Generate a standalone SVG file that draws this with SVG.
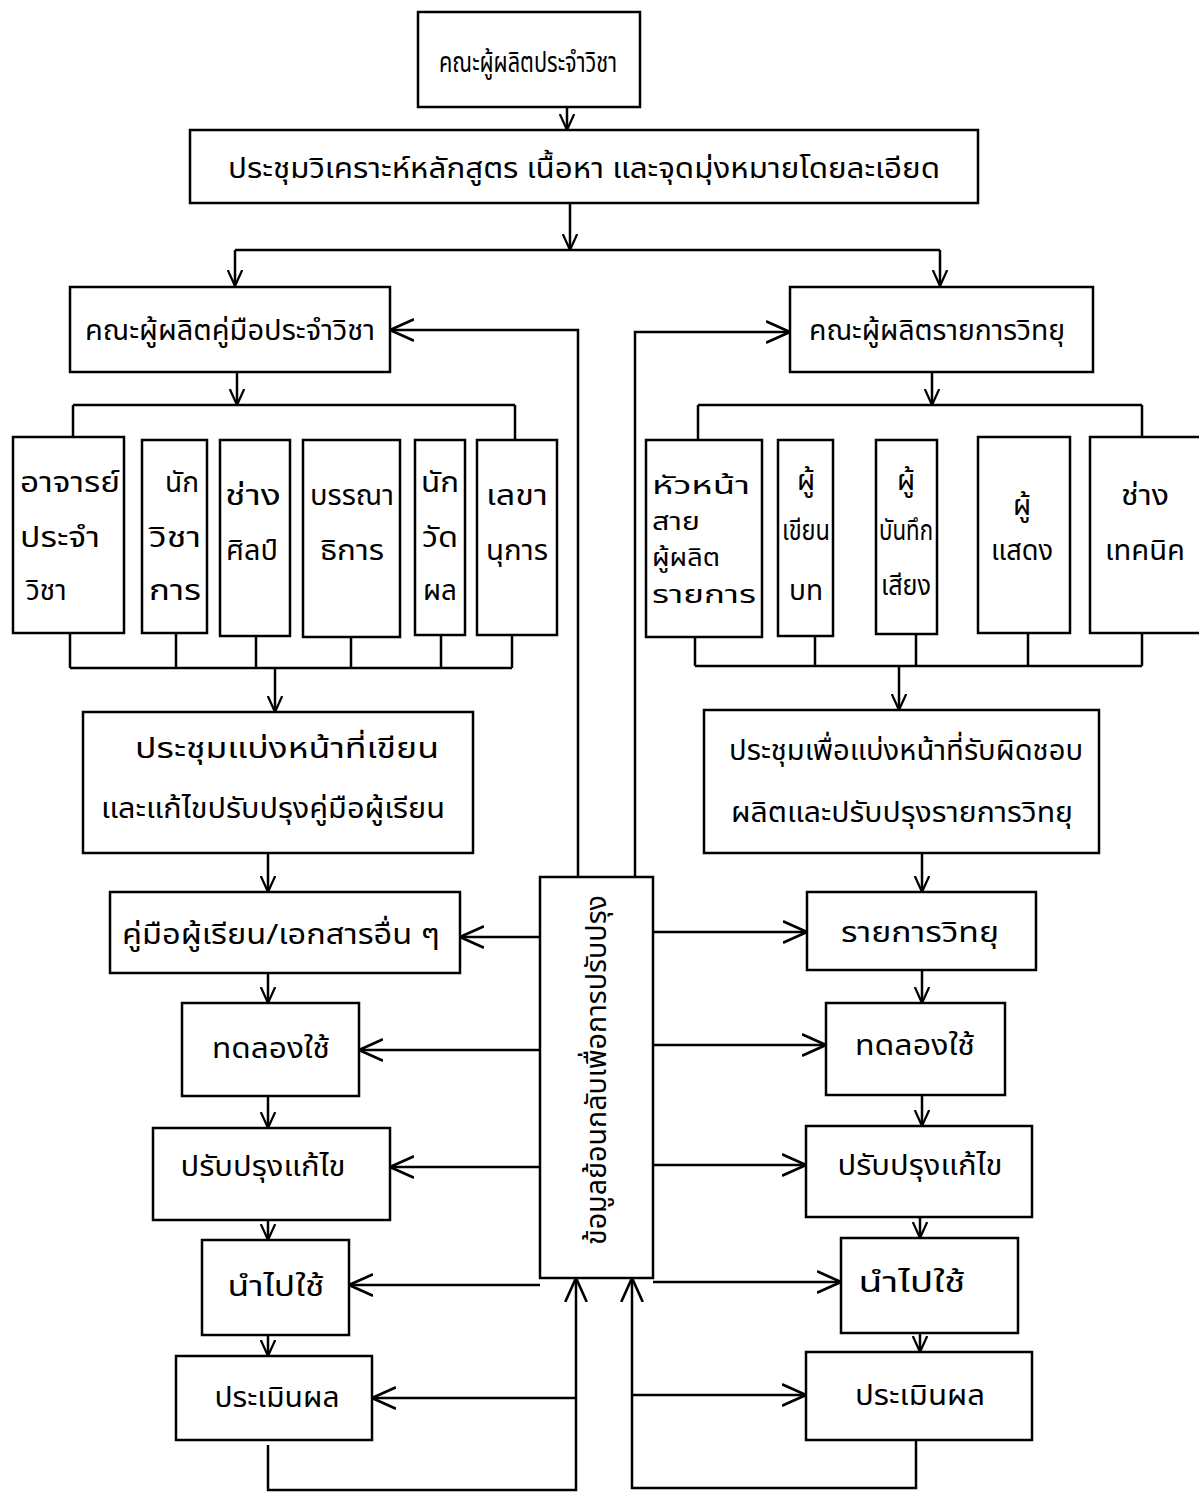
<svg xmlns="http://www.w3.org/2000/svg" width="1199" height="1494" viewBox="0 0 1199 1494">
<style>
.b{fill:#fff;stroke:#000;stroke-width:2.5}
.t{font-family:"Noto Sans Thai","Noto Sans","DejaVu Sans","Liberation Sans",sans-serif;font-size:28px;fill:#000}
.s{font-size:24px}
.m{text-anchor:middle}
.c path{fill:none;stroke:#000;stroke-width:2.5}
.d{marker-end:url(#a)}
.f{marker-end:url(#g)}
</style>
<defs>
<marker id="a" viewBox="0 0 10 10" refX="10" refY="5" markerWidth="16" markerHeight="16" markerUnits="userSpaceOnUse" orient="auto"><path d="M0,0.5 L10,5 L0,9.5" fill="none" stroke="#000" stroke-width="1.4"/></marker>
<marker id="g" viewBox="0 0 10 10" refX="10" refY="5" markerWidth="24" markerHeight="24" markerUnits="userSpaceOnUse" orient="auto"><path d="M0,0.5 L10,5 L0,9.5" fill="none" stroke="#000" stroke-width="1.1"/></marker>
</defs>
<rect width="1199" height="1494" fill="#fff"/>

<g id="connectors" class="c">
<path class="d" d="M567,107 V130"/>
<path class="d" d="M570,203 V250"/>
<path d="M235,250 H940"/>
<path class="d" d="M235,250 V286"/>
<path class="d" d="M940,250 V286"/>
<path class="d" d="M237,372 V405"/>
<path d="M73,405 H515 M73,405 V437 M515,405 V440"/>
<path class="d" d="M932,372 V405"/>
<path d="M698,405 H1142 M698,405 V440 M1142,405 V437"/>
<path d="M70,633 V668 M176,633 V668 M256,636 V668 M351,637 V668 M441,635 V668 M512,635 V668 M70,668 H512"/>
<path class="d" d="M275,668 V712"/>
<path d="M695,637 V666 M815,636 V666 M916,634 V666 M1028,633 V666 M1142,633 V666 M695,666 H1142"/>
<path class="d" d="M899,666 V710"/>
<path class="d" d="M268,853 V892"/>
<path class="d" d="M268,973 V1003"/>
<path class="d" d="M268,1096 V1128"/>
<path class="d" d="M268,1220 V1240"/>
<path class="d" d="M268,1335 V1356"/>
<path class="d" d="M922,853 V892"/>
<path class="d" d="M922,970 V1003"/>
<path class="d" d="M922,1095 V1126"/>
<path class="d" d="M920,1217 V1238"/>
<path class="d" d="M920,1333 V1352"/>
<path class="f" d="M268,1445 V1490 H576 V1278"/>
<path class="f" d="M916,1440 V1488 H632 V1278"/>
<path class="f" d="M578,877 V330 H390"/>
<path class="f" d="M635,877 V332 H790"/>
<path class="f" d="M540,937 H460"/>
<path class="f" d="M540,1050 H359"/>
<path class="f" d="M540,1167 H390"/>
<path class="f" d="M540,1285 H349"/>
<path class="f" d="M576,1398 H372"/>
<path class="f" d="M653,932 H807"/>
<path class="f" d="M653,1045 H826"/>
<path class="f" d="M653,1165 H806"/>
<path class="f" d="M653,1282 H841"/>
<path class="f" d="M632,1395 H806"/>
</g>

<g id="n1"><rect class="b" x="418" y="12" width="222" height="95"/><text class="t m" x="528" y="72" textLength="178" lengthAdjust="spacingAndGlyphs">คณะผู้ผลิตประจำวิชา</text></g>
<g id="n2"><rect class="b" x="190" y="130" width="788" height="73"/><text class="t m" x="584" y="178" textLength="712" lengthAdjust="spacingAndGlyphs">ประชุมวิเคราะห์หลักสูตร เนื้อหา และจุดมุ่งหมายโดยละเอียด</text></g>
<g id="n3"><rect class="b" x="70" y="287" width="320" height="85"/><text class="t m" x="230" y="340" textLength="290" lengthAdjust="spacingAndGlyphs">คณะผู้ผลิตคู่มือประจำวิชา</text></g>
<g id="n4"><rect class="b" x="790" y="287" width="303" height="85"/><text class="t m" x="937" y="340" textLength="256" lengthAdjust="spacingAndGlyphs">คณะผู้ผลิตรายการวิทยุ</text></g>

<g id="l1"><rect class="b" x="13" y="437" width="111" height="196"/><text class="t" x="20" y="492" textLength="100" lengthAdjust="spacingAndGlyphs">อาจารย์</text><text class="t" x="20" y="547" textLength="80" lengthAdjust="spacingAndGlyphs">ประจำ</text><text class="t" x="26" y="600">วิชา</text></g>
<g id="l2"><rect class="b" x="142" y="440" width="65" height="193"/><text class="t m" x="182" y="492">นัก</text><text class="t m" x="175" y="547" textLength="52" lengthAdjust="spacingAndGlyphs">วิชา</text><text class="t m" x="175" y="600" textLength="52" lengthAdjust="spacingAndGlyphs">การ</text></g>
<g id="l3"><rect class="b" x="220" y="440" width="70" height="196"/><text class="t m" x="253" y="505" textLength="56" lengthAdjust="spacingAndGlyphs">ช่าง</text><text class="t m" x="252" y="560" textLength="52" lengthAdjust="spacingAndGlyphs">ศิลป์</text></g>
<g id="l4"><rect class="b" x="303" y="440" width="97" height="197"/><text class="t m" x="352" y="505" textLength="84" lengthAdjust="spacingAndGlyphs">บรรณา</text><text class="t m" x="352" y="560" textLength="64" lengthAdjust="spacingAndGlyphs">ธิการ</text></g>
<g id="l5"><rect class="b" x="415" y="440" width="50" height="195"/><text class="t m" x="440" y="492" textLength="38" lengthAdjust="spacingAndGlyphs">นัก</text><text class="t m" x="440" y="547" textLength="36" lengthAdjust="spacingAndGlyphs">วัด</text><text class="t m" x="440" y="600" textLength="34" lengthAdjust="spacingAndGlyphs">ผล</text></g>
<g id="l6"><rect class="b" x="477" y="440" width="80" height="195"/><text class="t m" x="517" y="505" textLength="62" lengthAdjust="spacingAndGlyphs">เลขา</text><text class="t m" x="517" y="560" textLength="62" lengthAdjust="spacingAndGlyphs">นุการ</text></g>

<g id="r1"><rect class="b" x="646" y="440" width="116" height="197"/><text class="t s" x="652" y="494" textLength="98" lengthAdjust="spacingAndGlyphs">หัวหน้า</text><text class="t s" x="652" y="530" textLength="48" lengthAdjust="spacingAndGlyphs">สาย</text><text class="t s" x="652" y="566" textLength="68" lengthAdjust="spacingAndGlyphs">ผู้ผลิต</text><text class="t s" x="652" y="603" textLength="104" lengthAdjust="spacingAndGlyphs">รายการ</text></g>
<g id="r2"><rect class="b" x="778" y="440" width="55" height="196"/><text class="t m" x="806" y="490">ผู้</text><text class="t m" x="806" y="540" textLength="48" lengthAdjust="spacingAndGlyphs">เขียน</text><text class="t m" x="806" y="600" textLength="34" lengthAdjust="spacingAndGlyphs">บท</text></g>
<g id="r3"><rect class="b" x="876" y="440" width="61" height="194"/><text class="t m" x="906" y="490">ผู้</text><text class="t m" x="906" y="540" textLength="54" lengthAdjust="spacingAndGlyphs">บันทึก</text><text class="t m" x="906" y="595" textLength="50" lengthAdjust="spacingAndGlyphs">เสียง</text></g>
<g id="r4"><rect class="b" x="978" y="437" width="92" height="196"/><text class="t m" x="1022" y="515">ผู้</text><text class="t m" x="1022" y="560" textLength="62" lengthAdjust="spacingAndGlyphs">แสดง</text></g>
<g id="r5"><rect class="b" x="1090" y="437" width="115" height="196"/><text class="t m" x="1145" y="505" textLength="48" lengthAdjust="spacingAndGlyphs">ช่าง</text><text class="t m" x="1145" y="560" textLength="80" lengthAdjust="spacingAndGlyphs">เทคนิค</text></g>

<g id="m1"><rect class="b" x="83" y="712" width="390" height="141"/><text class="t m" x="287" y="758" textLength="304" lengthAdjust="spacingAndGlyphs">ประชุมแบ่งหน้าที่เขียน</text><text class="t m" x="273" y="818" textLength="344" lengthAdjust="spacingAndGlyphs">และแก้ไขปรับปรุงคู่มือผู้เรียน</text></g>
<g id="m2"><rect class="b" x="704" y="710" width="395" height="143"/><text class="t m" x="906" y="760" textLength="354" lengthAdjust="spacingAndGlyphs">ประชุมเพื่อแบ่งหน้าที่รับผิดชอบ</text><text class="t m" x="902" y="822" textLength="342" lengthAdjust="spacingAndGlyphs">ผลิตและปรับปรุงรายการวิทยุ</text></g>

<g id="a1"><rect class="b" x="110" y="892" width="350" height="81"/><text class="t m" x="281" y="944" textLength="318" lengthAdjust="spacingAndGlyphs">คู่มือผู้เรียน/เอกสารอื่น ๆ</text></g>
<g id="a2"><rect class="b" x="182" y="1003" width="177" height="93"/><text class="t m" x="271" y="1058" textLength="118" lengthAdjust="spacingAndGlyphs">ทดลองใช้</text></g>
<g id="a3"><rect class="b" x="153" y="1128" width="237" height="92"/><text class="t m" x="263" y="1176" textLength="165" lengthAdjust="spacingAndGlyphs">ปรับปรุงแก้ไข</text></g>
<g id="a4"><rect class="b" x="202" y="1240" width="147" height="95"/><text class="t m" x="276" y="1296" textLength="97" lengthAdjust="spacingAndGlyphs">นำไปใช้</text></g>
<g id="a5"><rect class="b" x="176" y="1356" width="196" height="84"/><text class="t m" x="277" y="1407" textLength="125" lengthAdjust="spacingAndGlyphs">ประเมินผล</text></g>

<g id="b1"><rect class="b" x="807" y="892" width="229" height="78"/><text class="t m" x="920" y="942" textLength="158" lengthAdjust="spacingAndGlyphs">รายการวิทยุ</text></g>
<g id="b2"><rect class="b" x="826" y="1003" width="179" height="92"/><text class="t m" x="915" y="1055" textLength="120" lengthAdjust="spacingAndGlyphs">ทดลองใช้</text></g>
<g id="b3"><rect class="b" x="806" y="1126" width="226" height="91"/><text class="t m" x="920" y="1175" textLength="165" lengthAdjust="spacingAndGlyphs">ปรับปรุงแก้ไข</text></g>
<g id="b4"><rect class="b" x="841" y="1238" width="177" height="95"/><text class="t m" x="912" y="1292" textLength="107" lengthAdjust="spacingAndGlyphs">นำไปใช้</text></g>
<g id="b5"><rect class="b" x="806" y="1352" width="226" height="88"/><text class="t m" x="920" y="1405" textLength="130" lengthAdjust="spacingAndGlyphs">ประเมินผล</text></g>

<g id="fb"><rect class="b" x="540" y="877" width="113" height="401"/><text class="t m" transform="translate(606,1070) rotate(-90)" textLength="350" lengthAdjust="spacingAndGlyphs">ข้อมูลย้อนกลับเพื่อการปรับปรุง</text></g>
</svg>
